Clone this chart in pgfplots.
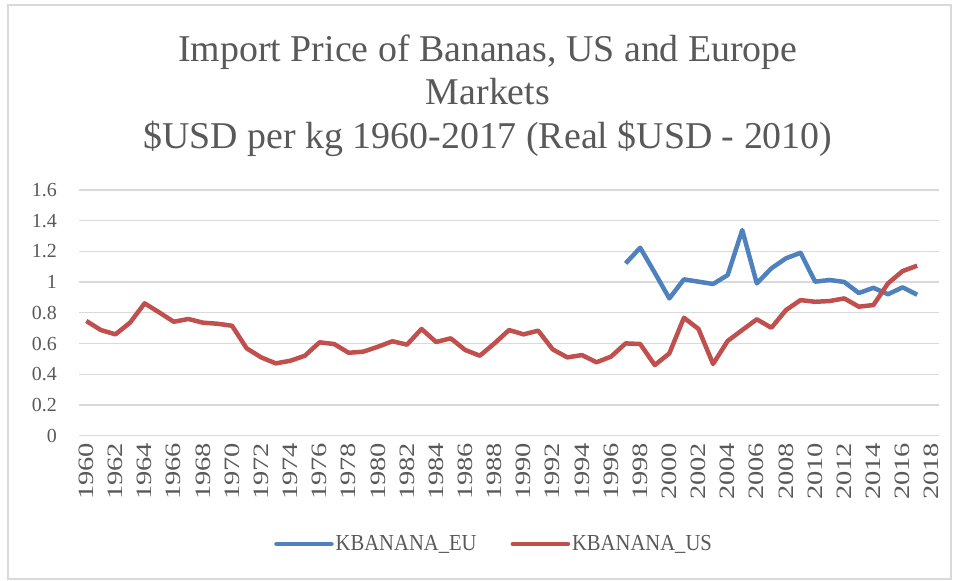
\documentclass[border=0pt]{standalone}
\usepackage{pgfplots}
\pgfplotsset{compat=1.18}
\usepackage{fontspec}
\setmainfont{Liberation Serif}
\newfontfamily\yearfont{Liberation Serif}[FakeStretch=1.3]
\newfontfamily\legfont{Liberation Serif}[FakeStretch=0.9]
\definecolor{txtgray}{HTML}{595959}
\definecolor{gridgray}{HTML}{D9D9D9}
\definecolor{eublue}{HTML}{4F81BD}
\definecolor{usred}{HTML}{C0504D}

\begin{document}
\begin{tikzpicture}[x=1bp,y=1bp]
\path[use as bounding box] (-79,-145.3) rectangle (879,435.7);
\draw[gridgray, line width=1.2bp] (-71,430.7) rectangle (872,-143.3);
\node[align=center, anchor=north, text=txtgray, inner sep=0pt,
      font=\fontsize{38}{43.5}\selectfont] at (409,401)
  {Import Price of Bananas, US and Europe\\Markets\\\$USD per kg 1960-2017 (Real \$USD - 2010)};
\begin{axis}[
  scale only axis,
  width=860bp, height=245.7bp,
  xmin=1959.5, xmax=2018.5,
  ymin=0, ymax=1.6,
  xtick={1960,1962,...,2018},
  ytick={0,0.2,0.4,0.6,0.8,1,1.2,1.4,1.6},
  /pgf/number format/assume math mode=true,
  xticklabel style={/pgf/number format/1000 sep={}, rotate=90, anchor=east,
     inner sep=0pt, font=\yearfont\fontsize{22}{24}\selectfont, text=txtgray},
  xticklabel shift=7bp,
  yticklabel style={/pgf/number format/fixed, inner sep=0pt,
     font=\fontsize{20}{24}\selectfont, text=txtgray},
  yticklabel shift=22bp,
  major tick length=0pt,
  axis line style={draw=none},
  ymajorgrids,
  grid style={gridgray, line width=1.3bp},
  legend columns=2,
  legend style={at={(axis description cs:0.4826,-0.441)}, anchor=center,
     draw=none, fill=none, font=\legfont\fontsize{23}{24}\selectfont, text=txtgray,
     /tikz/every even column/.append style={column sep=32bp}},
  legend image code/.code={\draw[#1, line cap=round] (0bp,0bp) -- (55bp,0bp);},
]
\addplot[eublue, line width=4.5bp, line join=round] coordinates {
(1997,1.122) (1998,1.224) (1999,1.061) (2000,0.894) (2001,1.018) (2002,1.003)
(2003,0.988) (2004,1.046) (2005,1.339) (2006,0.992) (2007,1.090) (2008,1.155)
(2009,1.191) (2010,1.003) (2011,1.014) (2012,1.001) (2013,0.929) (2014,0.963)
(2015,0.921) (2016,0.966) (2017,0.918)
};
\addlegendentry{KBANANA\_EU}
\addplot[usred, line width=4.5bp, line join=round] coordinates {
(1960,0.747) (1961,0.688) (1962,0.660) (1963,0.736) (1964,0.862) (1965,0.803)
(1966,0.742) (1967,0.760) (1968,0.736) (1969,0.729) (1970,0.716) (1971,0.569)
(1972,0.510) (1973,0.471) (1974,0.488) (1975,0.521) (1976,0.608) (1977,0.597)
(1978,0.540) (1979,0.547) (1980,0.579) (1981,0.615) (1982,0.593) (1983,0.695)
(1984,0.610) (1985,0.634) (1986,0.558) (1987,0.521) (1988,0.601) (1989,0.688)
(1990,0.660) (1991,0.684) (1992,0.562) (1993,0.510) (1994,0.525) (1995,0.478)
(1996,0.515) (1997,0.601) (1998,0.597) (1999,0.460) (2000,0.536) (2001,0.768)
(2002,0.695) (2003,0.467) (2004,0.617) (2005,0.688) (2006,0.758) (2007,0.703)
(2008,0.818) (2009,0.883) (2010,0.872) (2011,0.877) (2012,0.894) (2013,0.840)
(2014,0.851) (2015,0.992) (2016,1.072) (2017,1.107)
};
\addlegendentry{KBANANA\_US}
\end{axis}
\end{tikzpicture}
\end{document}
